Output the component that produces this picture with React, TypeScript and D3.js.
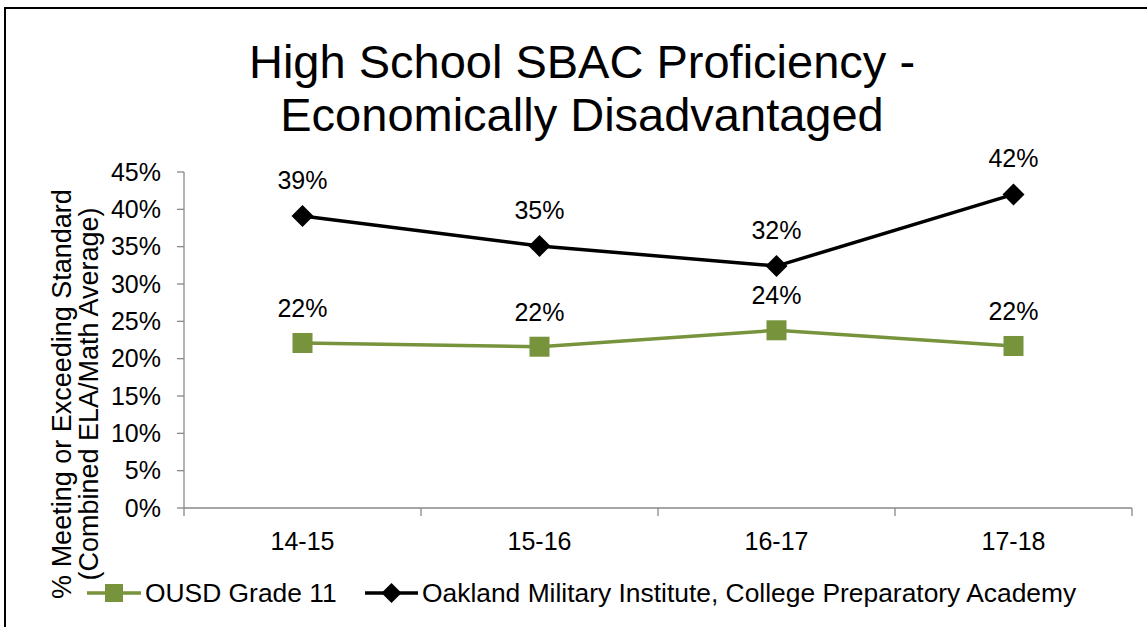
import React from "react";
import * as d3 from "d3";

const categories = ["14-15", "15-16", "16-17", "17-18"];
const ousdValues = [0.221, 0.216, 0.238, 0.217];
const omiValues = [0.391, 0.351, 0.324, 0.420];
const ousdLabels = ["22%", "22%", "24%", "22%"];
const omiLabels = ["39%", "35%", "32%", "42%"];
const yTicks = [0, 0.05, 0.1, 0.15, 0.2, 0.25, 0.3, 0.35, 0.4, 0.45];
const seriesNames = ["OUSD Grade 11", "Oakland Military Institute, College Preparatory Academy"];

const W = 1147;
const H = 627;
const FONT = "'Liberation Sans', Arial, sans-serif";
const GREEN = "#77933C";
const AXIS = "#898989";
const FS = 25;

export default function App() {
  const x0 = 184, x1 = 1132, yTop = 172, yBot = 508;
  const x = d3.scaleBand<string>().domain(categories).range([x0, x1]);
  const y = d3.scaleLinear().domain([0, 0.45]).range([yBot, yTop]);
  const cx = (c: string) => (x(c) as number) + x.bandwidth() / 2;
  const line = d3.line<number>().x((_, i) => cx(categories[i])).y((d) => y(d));
  const fmt = d3.format(".0%");
  const diamond = (px: number, py: number, r: number) =>
    `M${px},${py - r}L${px + r},${py}L${px},${py + r}L${px - r},${py}Z`;

  const edges = categories.map((c) => x(c) as number).concat([x1]);

  return (
    <svg width={W} height={H} style={{ position: "absolute", left: 0, top: 0, fontFamily: FONT }}>
      <rect x={0} y={0} width={W} height={H} fill="#fff" />
      <rect x={5} y={8} width={W + 10} height={H + 10} fill="none" stroke="#000" strokeWidth={2} />
      <text x={582} y={78} textAnchor="middle" fontSize={47} fill="#000">High School SBAC Proficiency -</text>
      <text x={582} y={131} textAnchor="middle" fontSize={47} fill="#000">Economically Disadvantaged</text>

      {/* y axis title */}
      <g transform="translate(71,394) rotate(-90)">
        <text x={0} y={0} textAnchor="middle" fontSize={27} fill="#000">% Meeting or Exceeding Standard</text>
        <text x={0} y={27} textAnchor="middle" fontSize={27} fill="#000">(Combined ELA/Math Average)</text>
      </g>

      {/* y axis */}
      <line x1={x0} x2={x0} y1={yTop} y2={yBot} stroke={AXIS} strokeWidth={1.3} />
      {yTicks.map((t) => (
        <g key={t}>
          <line x1={x0 - 7} x2={x0} y1={y(t)} y2={y(t)} stroke={AXIS} strokeWidth={1.3} />
          <text x={161} y={y(t)} dy="0.35em" textAnchor="end" fontSize={FS} fill="#000">{fmt(t)}</text>
        </g>
      ))}

      {/* x axis */}
      <line x1={x0} x2={x1} y1={yBot} y2={yBot} stroke={AXIS} strokeWidth={1.3} />
      {edges.map((e, i) => (
        <line key={i} x1={e} x2={e} y1={yBot} y2={yBot + 8} stroke={AXIS} strokeWidth={1.3} />
      ))}
      {categories.map((c) => (
        <text key={c} x={cx(c)} y={550} textAnchor="middle" fontSize={FS} fill="#000">{c}</text>
      ))}

      {/* series */}
      <path d={line(ousdValues) || ""} fill="none" stroke={GREEN} strokeWidth={3.5} />
      <path d={line(omiValues) || ""} fill="none" stroke="#000" strokeWidth={3.5} />
      {ousdValues.map((v, i) => (
        <g key={"o" + i}>
          <rect x={cx(categories[i]) - 10} y={y(v) - 10} width={20} height={20} fill={GREEN} />
          <text x={cx(categories[i])} y={y(v) - 26} textAnchor="middle" fontSize={FS} fill="#000">{ousdLabels[i]}</text>
        </g>
      ))}
      {omiValues.map((v, i) => (
        <g key={"m" + i}>
          <path d={diamond(cx(categories[i]), y(v), 11)} fill="#000" />
          <text x={cx(categories[i])} y={y(v) - 27} textAnchor="middle" fontSize={FS} fill="#000">{omiLabels[i]}</text>
        </g>
      ))}

      {/* legend */}
      <line x1={87} x2={141} y1={593} y2={593} stroke={GREEN} strokeWidth={3.5} />
      <rect x={105} y={584} width={18} height={18} fill={GREEN} />
      <text x={145} y={593} dy="0.35em" fontSize={26.4} fill="#000">{seriesNames[0]}</text>
      <line x1={365} x2={418} y1={593} y2={593} stroke="#000" strokeWidth={3.5} />
      <path d={diamond(391.5, 593, 10)} fill="#000" />
      <text x={422} y={593} dy="0.35em" fontSize={26.4} fill="#000">{seriesNames[1]}</text>
    </svg>
  );
}
